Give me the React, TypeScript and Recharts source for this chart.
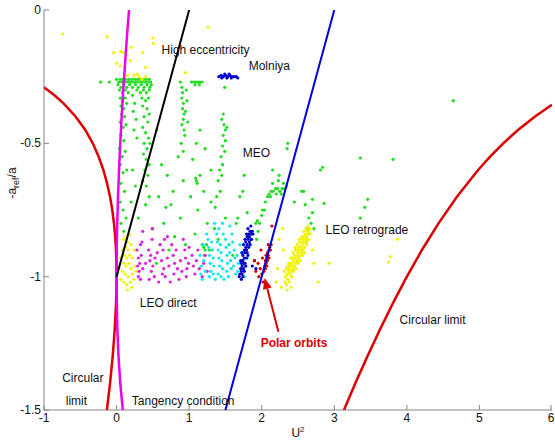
import React from "react";
import {
  ScatterChart,
  Scatter,
  XAxis,
  YAxis,
  ReferenceLine,
} from "recharts";

const xTicks = [-1, 0, 1, 2, 3, 4, 5, 6];
const yTicks = [-1.5, -1, -0.5, 0];

// orbit populations, [U^2, -a_ref/a]
const greenPts = [
  [-0.22, -0.27], [-0.1, -0.27], [0.0, -0.26], [0.03, -0.27], [0.05, -0.26], [0.07, -0.27], [0.09, -0.26],
  [0.11, -0.27], [0.13, -0.26], [0.15, -0.27], [0.17, -0.26], [0.19, -0.27], [0.21, -0.26], [0.23, -0.27],
  [0.25, -0.26], [0.27, -0.27], [0.29, -0.26], [0.31, -0.27], [0.33, -0.26], [0.35, -0.27], [0.37, -0.26],
  [0.39, -0.27], [0.41, -0.26], [0.43, -0.27], [0.45, -0.26], [0.47, -0.27],
  [0.02, -0.28], [0.06, -0.29], [0.1, -0.28], [0.14, -0.29], [0.18, -0.28], [0.22, -0.29], [0.26, -0.28],
  [0.3, -0.29], [0.34, -0.28], [0.38, -0.29], [0.42, -0.28], [0.46, -0.29], [0.04, -0.3], [0.08, -0.31],
  [0.12, -0.3], [0.16, -0.31], [0.28, -0.3], [0.33, -0.31], [0.37, -0.3], [0.41, -0.31], [0.45, -0.3], [0.48, -0.28],
  [0.05, -0.33], [0.08, -0.34], [0.12, -0.33], [0.06, -0.36], [0.1, -0.37], [0.14, -0.35], [0.07, -0.39],
  [0.11, -0.4], [0.05, -0.42], [0.09, -0.44], [0.13, -0.43], [0.06, -0.47], [0.1, -0.49], [0.04, -0.52],
  [0.08, -0.55], [0.12, -0.53], [0.05, -0.58], [0.09, -0.61], [0.14, -0.6], [0.06, -0.65], [0.11, -0.68],
  [0.05, -0.72], [0.09, -0.75], [0.13, -0.78], [0.06, -0.8], [0.1, -0.83],
  [0.35, -0.33], [0.4, -0.34], [0.44, -0.33], [0.36, -0.36], [0.42, -0.37], [0.45, -0.39], [0.38, -0.4],
  [0.43, -0.42], [0.36, -0.44], [0.4, -0.46], [0.44, -0.48], [0.38, -0.5], [0.42, -0.52], [0.46, -0.5],
  [0.37, -0.54], [0.41, -0.56], [0.45, -0.58], [0.39, -0.6], [0.43, -0.62], [0.36, -0.64], [0.41, -0.66],
  [0.45, -0.7], [0.4, -0.73],
  [0.22, -0.32], [0.25, -0.35], [0.23, -0.38], [0.27, -0.41], [0.24, -0.45], [0.28, -0.48], [0.22, -0.6],
  [0.26, -0.66], [0.2, -0.72], [0.3, -0.78],
  [0.55, -0.45], [0.62, -0.58], [0.7, -0.62], [0.58, -0.7], [0.75, -0.73], [0.65, -0.8], [0.8, -0.85],
  [0.72, -0.9], [0.88, -0.78], [0.92, -0.64], [0.85, -0.55], [0.6, -0.88], [0.5, -0.82], [0.55, -0.95],
  [0.68, -0.74], [0.95, -0.88], [0.78, -0.68],
  [0.88, -0.27], [0.9, -0.29], [0.91, -0.31], [0.9, -0.33], [0.92, -0.35], [0.91, -0.37], [0.93, -0.39],
  [0.92, -0.41], [0.9, -0.43], [0.93, -0.45], [0.94, -0.47], [0.96, -0.3], [0.97, -0.34], [0.95, -0.38],
  [0.98, -0.42], [0.89, -0.5], [0.92, -0.53],
  [1.03, -0.27], [1.06, -0.27], [1.09, -0.27], [1.12, -0.27], [1.15, -0.27], [1.18, -0.27], [1.08, -0.28], [1.14, -0.28],
  [1.49, -0.29], [1.47, -0.39], [1.45, -0.41], [1.48, -0.43], [1.5, -0.45], [1.52, -0.44], [1.47, -0.47],
  [1.5, -0.49], [1.46, -0.51], [1.49, -0.53], [1.44, -0.55], [1.46, -0.58], [1.42, -0.6], [1.45, -0.62],
  [1.4, -0.64], [1.43, -0.68], [1.38, -0.7], [1.36, -0.74],
  [1.05, -0.56], [1.1, -0.5], [1.15, -0.62], [1.2, -0.68], [1.12, -0.75], [1.25, -0.8], [1.3, -0.72],
  [1.35, -0.82], [1.18, -0.88], [1.28, -0.9], [1.08, -0.84], [1.4, -0.86], [1.5, -0.78], [1.55, -0.88],
  [1.6, -0.92], [1.65, -0.8], [1.7, -0.7], [1.76, -0.62], [1.8, -0.76], [1.85, -0.84], [1.3, -0.6],
  [1.22, -0.52], [1.02, -0.7], [1.15, -0.45], [1.1, -0.64], [1.11, -0.65], [1.09, -0.63],
  [1.2, -0.89], [1.22, -0.9], [1.24, -0.88], [1.21, -0.92],
  [2.05, -0.72], [2.08, -0.7], [2.1, -0.69], [2.13, -0.68], [2.16, -0.68], [2.19, -0.67], [2.22, -0.67],
  [2.25, -0.68], [2.28, -0.67], [2.31, -0.67], [2.34, -0.66], [2.12, -0.7], [2.2, -0.69], [2.27, -0.69],
  [2.3, -0.65], [2.24, -0.62], [2.04, -0.75], [2.0, -0.77], [1.97, -0.8], [1.95, -0.83], [1.93, -0.86],
  [2.15, -0.6], [2.35, -0.52], [2.36, -0.5],
  [2.65, -0.78], [2.68, -0.8], [2.7, -0.76], [2.62, -0.82], [2.72, -0.82], [2.6, -0.73], [2.55, -0.68],
  [2.45, -0.72], [2.7, -0.71],
  [1.74, -0.68], [2.58, -0.68], [2.86, -0.725], [2.84, -0.59], [2.81, -0.6], [2.23, -0.64], [2.15, -0.65],
  [2.01, -0.75], [1.94, -0.79], [1.92, -0.8], [1.67, -0.78],
  [3.36, -0.555], [3.81, -0.56], [4.64, -0.34], [3.46, -0.71], [3.42, -0.74], [3.36, -0.78],
];

const yellowPts = [
  [-0.74, -0.09], [-0.13, -0.1], [-0.04, -0.16], [0.06, -0.155], [0.09, -0.16], [0.19, -0.19], [0.2, -0.14],
  [0.36, -0.16], [0.4, -0.215], [0.5, -0.105], [0.51, -0.125], [0.05, -0.21], [0.28, -0.24], [0.31, -0.25],
  [0.24, -0.245], [0.4, -0.25], [0.95, -0.235], [1.26, -0.065], [0.0, -0.2], [0.15, -0.245], [0.35, -0.26],
  [0.1, -0.86], [0.13, -0.85], [0.15, -0.87], [0.12, -0.89], [0.16, -0.9], [0.11, -0.92], [0.14, -0.93],
  [0.18, -0.92], [0.1, -0.95], [0.13, -0.96], [0.17, -0.95], [0.2, -0.97], [0.08, -0.98], [0.12, -0.99],
  [0.16, -1.0], [0.22, -0.99], [0.06, -1.01], [0.1, -1.02], [0.14, -1.03], [0.19, -1.02], [0.24, -1.01],
  [0.2, -0.88], [0.22, -0.93], [0.25, -0.96], [0.18, -0.84], [0.27, -0.98], [0.03, -0.97], [0.05, -0.93],
  [0.15, -1.05], [0.21, -1.04], [0.08, -0.9], [0.24, -0.9],
  [2.33, -1.0], [2.35, -0.99], [2.37, -0.98], [2.36, -1.01], [2.38, -0.97], [2.39, -0.99], [2.4, -0.96],
  [2.41, -0.98], [2.42, -0.95], [2.43, -0.97], [2.44, -0.94], [2.45, -0.96], [2.46, -0.93], [2.47, -0.95],
  [2.48, -0.92], [2.49, -0.94], [2.5, -0.91], [2.51, -0.93], [2.52, -0.9], [2.53, -0.92], [2.54, -0.89],
  [2.55, -0.91], [2.56, -0.88], [2.57, -0.9], [2.58, -0.87], [2.59, -0.89], [2.6, -0.86], [2.61, -0.87],
  [2.62, -0.85], [2.63, -0.86], [2.64, -0.84], [2.65, -0.83], [2.66, -0.82], [2.63, -0.83], [2.6, -0.84],
  [2.57, -0.86], [2.54, -0.87], [2.51, -0.89], [2.48, -0.9], [2.45, -0.92], [2.42, -0.93], [2.39, -0.95],
  [2.36, -0.96], [2.44, -0.98], [2.5, -0.95], [2.56, -0.92], [2.62, -0.88], [2.38, -1.02], [2.34, -1.03],
  [2.46, -0.9], [2.52, -0.87], [2.58, -0.85],
  [2.31, -0.98], [2.34, -0.97], [2.37, -0.95], [2.4, -0.93], [2.43, -0.91], [2.46, -0.89], [2.49, -0.88],
  [2.52, -0.86], [2.55, -0.85], [2.58, -0.83], [2.61, -0.82], [2.64, -0.81], [2.41, -1.0], [2.44, -0.96],
  [2.47, -0.97], [2.5, -0.93], [2.53, -0.94], [2.56, -0.9], [2.59, -0.91], [2.62, -0.87], [2.65, -0.86],
  [2.67, -0.84], [2.35, -1.05], [2.32, -1.02],
  [2.22, -0.97], [2.2, -1.02], [2.27, -1.04], [2.3, -0.9], [2.24, -0.86], [2.72, -0.95], [2.78, -1.02],
  [2.93, -0.95], [3.77, -0.925], [3.75, -0.945], [3.87, -0.86], [2.29, -0.82], [2.4, -1.04], [2.7, -0.9],
];

const magentaPts = [
  [0.28, -0.9], [0.3, -0.93], [0.29, -0.96], [0.31, -0.98], [0.3, -1.0], [0.32, -0.95], [0.33, -0.88],
  [0.35, -0.87], [0.34, -0.92], [0.36, -0.97], [0.33, -1.01],
  [0.44, -0.9], [0.46, -0.94], [0.48, -0.98], [0.47, -0.92], [0.49, -0.86], [0.5, -0.96], [0.52, -1.0],
  [0.53, -0.93], [0.45, -1.01],
  [0.6, -0.88], [0.62, -0.94], [0.64, -0.9], [0.66, -0.86], [0.65, -0.97], [0.67, -1.0], [0.63, -0.99],
  [0.7, -0.93], [0.72, -0.96],
  [0.76, -0.88], [0.78, -0.92], [0.8, -0.95], [0.79, -0.99], [0.82, -0.9], [0.84, -0.97], [0.86, -1.01], [0.88, -0.94],
  [0.92, -0.86], [0.94, -0.9], [0.95, -0.93], [0.97, -0.97], [0.96, -1.0], [0.99, -0.95], [1.0, -0.89],
  [1.04, -0.92], [1.06, -0.96], [1.08, -0.99], [1.1, -0.94], [1.12, -0.9], [1.14, -0.97], [1.18, -1.0],
  [1.2, -0.95], [1.22, -0.92], [1.25, -0.98],
  [0.4, -0.95], [0.56, -0.91], [0.74, -1.02], [0.9, -0.98], [0.58, -1.02], [0.36, -0.83], [0.49, -0.82], [0.7, -0.85],
];

const cyanPts = [
  [1.15, -0.92], [1.17, -0.96], [1.16, -0.99], [1.19, -0.88], [1.2, -0.94], [1.22, -0.98], [1.18, -1.01],
  [1.26, -0.86], [1.27, -0.89], [1.28, -0.92], [1.29, -0.95], [1.3, -0.98], [1.28, -1.0], [1.31, -0.87],
  [1.32, -0.9], [1.33, -0.93], [1.34, -0.96], [1.33, -0.99],
  [1.38, -0.84], [1.39, -0.87], [1.4, -0.9], [1.41, -0.93], [1.42, -0.96], [1.4, -0.99], [1.43, -0.88],
  [1.44, -0.91], [1.45, -0.94], [1.46, -0.97], [1.44, -1.0], [1.41, -0.82],
  [1.5, -0.86], [1.51, -0.89], [1.52, -0.92], [1.53, -0.95], [1.52, -0.98], [1.55, -0.88], [1.56, -0.91],
  [1.57, -0.94], [1.58, -0.97], [1.54, -1.0],
  [1.6, -0.87], [1.62, -0.9], [1.63, -0.93], [1.61, -0.96], [1.64, -0.99], [1.66, -0.92], [1.68, -0.95], [1.67, -0.98],
  [1.72, -0.91], [1.74, -0.94], [1.73, -0.97], [1.76, -1.0], [1.78, -0.96], [1.8, -0.93],
  [1.24, -0.84], [1.36, -1.01], [1.48, -1.01], [1.47, -0.84], [1.59, -0.84], [1.7, -0.88], [1.35, -0.8],
  [1.46, -0.8], [1.56, -0.81],
];

const blueLeoPts = [
  [1.7, -0.99], [1.71, -0.97], [1.72, -0.98], [1.73, -0.96], [1.72, -0.95], [1.74, -0.94], [1.75, -0.95],
  [1.74, -0.92], [1.76, -0.93], [1.77, -0.91], [1.76, -0.9], [1.78, -0.89], [1.79, -0.9], [1.78, -0.87],
  [1.8, -0.88], [1.81, -0.86], [1.8, -0.85], [1.82, -0.84], [1.83, -0.85], [1.84, -0.83], [1.86, -0.84],
  [1.85, -0.86], [1.87, -0.83], [1.88, -0.84], [1.83, -0.87], [1.82, -0.89], [1.8, -0.91], [1.79, -0.93],
  [1.77, -0.95], [1.75, -0.97], [1.73, -0.99], [1.76, -0.98], [1.74, -1.0], [1.78, -0.96], [1.81, -0.92],
  [1.84, -0.88], [1.86, -0.86], [1.72, -1.01], [1.69, -1.0], [1.71, -0.94], [1.73, -0.91], [1.75, -0.88],
  [1.77, -0.86], [1.79, -0.84], [1.81, -0.82], [1.85, -0.81], [1.87, -0.96], [1.92, -0.97], [1.9, -0.94],
];

const molniyaPts = [
  [1.41, -0.25], [1.44, -0.245], [1.47, -0.25], [1.5, -0.245], [1.53, -0.25], [1.56, -0.245], [1.59, -0.25],
  [1.62, -0.25], [1.65, -0.25], [1.45, -0.255], [1.52, -0.255], [1.58, -0.255], [1.49, -0.24], [1.55, -0.24], [1.67, -0.255],
];

const polarPts = [
  [2.04, -0.96], [2.05, -0.94], [2.06, -0.95], [2.07, -0.93], [2.06, -0.92], [2.08, -0.91], [2.09, -0.92],
  [2.1, -0.9], [2.11, -0.89], [2.12, -0.9], [2.08, -0.94], [2.05, -0.97], [2.07, -0.96], [2.1, -0.93],
  [2.13, -0.88], [2.03, -0.98], [2.09, -0.88], [2.14, -0.81], [1.95, -0.95], [1.92, -0.98], [1.98, -0.97],
  [1.96, -1.0], [2.0, -0.99], [1.9, -0.94], [2.01, -0.93], [1.99, -0.9], [2.02, -1.02],
];

// boundary curves
const leftLimit = [
  [-1.004, -0.29], [-0.951, -0.3], [-0.856, -0.32], [-0.731, -0.35], [-0.562, -0.4], [-0.431, -0.45],
  [-0.328, -0.5], [-0.247, -0.55], [-0.182, -0.6], [-0.131, -0.65], [-0.09, -0.7], [-0.059, -0.75],
  [-0.036, -0.8], [-0.019, -0.85], [-0.008, -0.9], [-0.002, -0.95], [0, -1.0], [-0.002, -1.05],
  [-0.007, -1.1], [-0.026, -1.2], [-0.054, -1.3], [-0.09, -1.4], [-0.133, -1.5],
];
const rightLimit = [
  [3.133, -1.5], [3.29, -1.4], [3.454, -1.3], [3.626, -1.2], [3.807, -1.1], [4.0, -1.0], [4.208, -0.9],
  [4.436, -0.8], [4.69, -0.7], [4.982, -0.6], [5.147, -0.55], [5.328, -0.5], [5.531, -0.45], [5.762, -0.4],
  [5.973, -0.36], [6.0, -0.355],
];
const tangency = [
  [0.172, 0], [0.143, -0.1], [0.117, -0.2], [0.092, -0.3], [0.07, -0.4], [0.051, -0.5], [0.034, -0.6],
  [0.02, -0.7], [0.009, -0.8], [0.002, -0.9], [0, -1.0], [0.003, -1.1], [0.011, -1.2], [0.027, -1.3],
  [0.051, -1.4], [0.086, -1.5],
];
const highEcc = [[0, -1], [1, 0]];
const blueLine = [[1.5, -1.5], [3, 0]];
const polarArrow = [[2.23, -1.207], [2.04, -1.005]];

const labels = [
  { x: 0.62, y: -0.165, text: "High eccentricity" },
  { x: 1.82, y: -0.225, text: "Molniya" },
  { x: 1.74, y: -0.55, text: "MEO" },
  { x: 2.88, y: -0.84, text: "LEO retrograde" },
  { x: 0.32, y: -1.113, text: "LEO direct" },
  { x: 3.9, y: -1.177, text: "Circular limit" },
  { x: 1.985, y: -1.264, text: "Polar orbits", bold: true },
  { x: -0.75, y: -1.395, text: "Circular" },
  { x: -0.7, y: -1.48, text: "limit" },
  { x: 0.21, y: -1.48, text: "Tangency condition" },
];

const FONT = "'Liberation Sans', Arial, Helvetica, sans-serif";
const AXIS = "#858585";

const pts = (arr: number[][]) => arr.map(([x, y]) => ({ x, y }));

const dot = (color: string) => (p: any) => (
  <circle cx={p.cx} cy={p.cy} r={1.6} fill={color} />
);
const noDot = () => <g />;

const BottomTick = (p: any) => (
  <g>
    <line x1={p.x} y1={p.y} x2={p.x} y2={p.y - 5} stroke={AXIS} />
    <text x={p.x} y={p.y + 12} textAnchor="middle" fontSize={12} fontFamily={FONT} fill="#111">
      {p.payload.value}
    </text>
  </g>
);
const TopTick = (p: any) => (
  <line x1={p.x} y1={p.y} x2={p.x} y2={p.y + 5} stroke={AXIS} />
);
const LeftTick = (p: any) => (
  <g>
    <line x1={p.x} y1={p.y} x2={p.x + 5} y2={p.y} stroke={AXIS} />
    <text x={p.x - 3} y={p.y + 4} textAnchor="end" fontSize={12} fontFamily={FONT} fill="#111">
      {p.payload.value}
    </text>
  </g>
);
const RightTick = (p: any) => (
  <line x1={p.x} y1={p.y} x2={p.x - 5} y2={p.y} stroke={AXIS} />
);

const labelShape = (p: any) => {
  const d = p.payload;
  return (
    <text
      x={p.cx}
      y={p.cy}
      fontSize={12}
      fontFamily={FONT}
      fontWeight={d.bold ? "bold" : "normal"}
      fill={d.bold ? "#dd0000" : "#111"}
    >
      {d.text}
    </text>
  );
};

const arrowShape = (p: any) => {
  const { x1, y1, x2, y2 } = p;
  const a = Math.atan2(y2 - y1, x2 - x1);
  const L = 11;
  const W = 4.5;
  const bx = x2 - L * Math.cos(a);
  const by = y2 - L * Math.sin(a);
  const px = -Math.sin(a) * W;
  const py = Math.cos(a) * W;
  return (
    <g>
      <line x1={x1} y1={y1} x2={bx} y2={by} stroke="#dd0000" strokeWidth={2} />
      <polygon
        points={`${x2},${y2} ${bx + px},${by + py} ${bx - px},${by - py}`}
        fill="#dd0000"
      />
    </g>
  );
};

const XLabel = (p: any) => {
  const vb = p.viewBox;
  return (
    <text x={vb.x + vb.width / 2} y={vb.y + 27} textAnchor="middle" fontSize={12} fontFamily={FONT} fill="#111">
      U<tspan dy={-5} fontSize={8}>2</tspan>
    </text>
  );
};
const YLabel = () => {
  const cx = 16;
  const cy = 183;
  return (
    <text x={cx} y={cy} transform={`rotate(-90 ${cx} ${cy})`} textAnchor="middle" fontSize={12} fontFamily={FONT} fill="#111">
      -a<tspan dy={3} fontSize={9}>ref</tspan>
      <tspan dy={-3}>/a</tspan>
    </text>
  );
};

export default function App() {
  return (
    <div style={{ position: "absolute", left: 0, top: 0, background: "#fff" }}>
      <ScatterChart width={555} height={443} margin={{ top: 10, right: 3, bottom: 0, left: 0 }}>
        <XAxis
          type="number"
          dataKey="x"
          domain={[-1, 6]}
          ticks={xTicks}
          allowDataOverflow
          height={33}
          tickSize={0}
          tickMargin={0}
          tick={BottomTick}
          axisLine={{ stroke: AXIS }}
          tickLine={false}
          label={<XLabel />}
        />
        <XAxis
          xAxisId="top"
          orientation="top"
          type="number"
          dataKey="x"
          domain={[-1, 6]}
          ticks={xTicks}
          allowDataOverflow
          height={0}
          tickSize={0}
          tickMargin={0}
          tick={TopTick}
          axisLine={false}
          tickLine={false}
        />
        <YAxis
          type="number"
          dataKey="y"
          domain={[-1.5, 0]}
          ticks={yTicks}
          allowDataOverflow
          width={44}
          tickSize={0}
          tickMargin={0}
          tick={LeftTick}
          axisLine={{ stroke: AXIS }}
          tickLine={false}
          label={<YLabel />}
        />
        <YAxis
          yAxisId="right"
          orientation="right"
          type="number"
          dataKey="y"
          domain={[-1.5, 0]}
          ticks={yTicks}
          allowDataOverflow
          width={0}
          tickSize={0}
          tickMargin={0}
          tick={RightTick}
          axisLine={{ stroke: AXIS }}
          tickLine={false}
        />

        <Scatter data={pts(greenPts)} shape={dot("#22dd22")} isAnimationActive={false} />
        <Scatter data={pts(yellowPts)} shape={dot("#f2f200")} isAnimationActive={false} />
        <Scatter data={pts(magentaPts)} shape={dot("#dd22dd")} isAnimationActive={false} />
        <Scatter data={pts(cyanPts)} shape={dot("#11e6ee")} isAnimationActive={false} />
        <Scatter data={pts(blueLeoPts)} shape={dot("#0000cc")} isAnimationActive={false} />
        <Scatter data={pts(molniyaPts)} shape={dot("#0000cc")} isAnimationActive={false} />
        <Scatter data={pts(polarPts)} shape={dot("#cc0000")} isAnimationActive={false} />

        <Scatter data={pts(leftLimit)} line={{ stroke: "#dd0000", strokeWidth: 2.5 }} shape={noDot} isAnimationActive={false} />
        <Scatter data={pts(rightLimit)} line={{ stroke: "#dd0000", strokeWidth: 2.5 }} shape={noDot} isAnimationActive={false} />
        <Scatter data={pts(tangency)} line={{ stroke: "#ee00ee", strokeWidth: 2.5 }} shape={noDot} isAnimationActive={false} />
        <Scatter data={pts(highEcc)} line={{ stroke: "#000000", strokeWidth: 2 }} shape={noDot} isAnimationActive={false} />
        <Scatter data={pts(blueLine)} line={{ stroke: "#0000dd", strokeWidth: 2 }} shape={noDot} isAnimationActive={false} />

        <ReferenceLine segment={pts(polarArrow)} shape={arrowShape} />
        <Scatter data={labels} shape={labelShape} isAnimationActive={false} />
      </ScatterChart>
    </div>
  );
}
